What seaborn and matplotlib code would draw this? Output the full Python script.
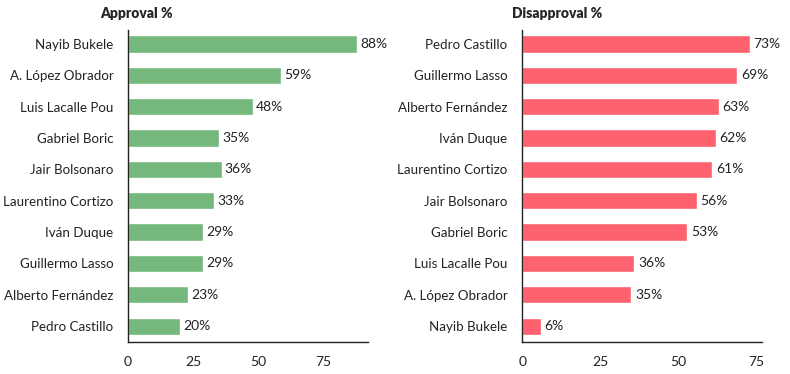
import matplotlib
matplotlib.use("Agg")
import matplotlib.pyplot as plt
import seaborn as sns
import pandas as pd

approval_names = ["Nayib Bukele", "A. López Obrador", "Luis Lacalle Pou", "Gabriel Boric",
                  "Jair Bolsonaro", "Laurentino Cortizo", "Iván Duque", "Guillermo Lasso",
                  "Alberto Fernández", "Pedro Castillo"]
approval_values = [88, 59, 48, 35, 36, 33, 29, 29, 23, 20]

disapproval_names = ["Pedro Castillo", "Guillermo Lasso", "Alberto Fernández", "Iván Duque",
                     "Laurentino Cortizo", "Jair Bolsonaro", "Gabriel Boric", "Luis Lacalle Pou",
                     "A. López Obrador", "Nayib Bukele"]
disapproval_values = [73, 69, 63, 62, 61, 56, 53, 36, 35, 6]

ticks = [0, 25, 50, 75]

sns.set_style("white")
plt.rcParams['font.family'] = ['Lato', 'DejaVu Sans']

fig = plt.figure(figsize=(7.9, 3.74), dpi=100)
ax1 = fig.add_axes([0.162, 0.086, 0.304, 0.834])
ax2 = fig.add_axes([0.661, 0.086, 0.304, 0.834])


def panel(ax, names, values, color, xmax):
    df = pd.DataFrame({"name": names, "value": values})
    sns.barplot(data=df, x="value", y="name", color=color, width=0.55,
                saturation=1, ax=ax)
    for i, v in enumerate(values):
        ax.text(v + 1.2, i, f"{v}%", va="center", ha="left", fontsize=10, color="#222222")
    ax.set_xlim(0, xmax)
    ax.set_ylim(len(values) - 0.5, -0.45)
    ax.set_xticks(ticks)
    ax.set_xlabel("")
    ax.set_ylabel("")
    ax.tick_params(axis="both", length=0, colors="#222222")
    ax.tick_params(axis="x", pad=10, labelsize=10)
    ax.tick_params(axis="y", pad=10.5, labelsize=9.6)
    sns.despine(ax=ax)
    for s in ["left", "bottom"]:
        ax.spines[s].set_color("#222222")
        ax.spines[s].set_linewidth(1.0)


panel(ax1, approval_names, approval_values, "#74b87c", 92.3)
panel(ax2, disapproval_names, disapproval_values, "#fe626f", 77)

fig.text(0.127, 0.963, "Approval %", fontsize=10, fontweight="heavy", ha="left", va="center")
fig.text(0.648, 0.963, "Disapproval %", fontsize=10, fontweight="heavy", ha="left", va="center")

fig.savefig("out.png", dpi=100)
